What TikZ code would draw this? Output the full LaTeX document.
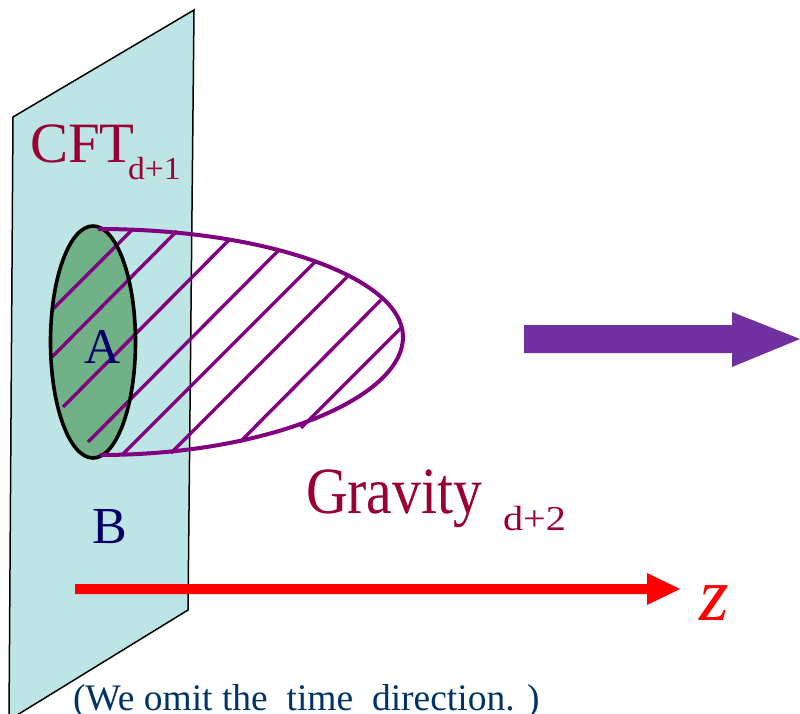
\documentclass[tikz,border=0pt]{standalone}
\usepackage{fontspec}
\setmainfont{Liberation Serif}
\definecolor{planefill}{RGB}{190,229,229}
\definecolor{regiongreen}{RGB}{112,177,136}
\definecolor{lobepurple}{RGB}{128,0,128}
\definecolor{labelred}{RGB}{153,0,51}
\definecolor{labelnavy}{RGB}{0,0,102}
\definecolor{notenavy}{RGB}{0,51,102}
\definecolor{arrowpurple}{RGB}{112,48,160}
\tikzset{
  hatchline/.style={draw=lobepurple, line width=3.4pt},
  lbl/.style={inner sep=0pt, outer sep=0pt, anchor=base west},
}
\begin{document}
\begin{tikzpicture}[x=1pt,y=-1pt]
\useasboundingbox (0,0) rectangle (800,714);
% boundary plane
\draw[fill=planefill, draw=black, line width=1.5pt, line join=miter]
  (194,10) -- (13,117) -- (9,720) -- (188,610) -- cycle;
% green region A
\fill[regiongreen] (93,342) ellipse [x radius=42.5, y radius=116];
% hatch lines
\draw[hatchline] (52,310) -- (132,230);
\draw[hatchline] (52,357) -- (177,231);
\draw[hatchline] (63,407) -- (229,240);
\draw[hatchline] (88,442) -- (278,251);
\draw[hatchline] (123,454) -- (315,262);
\draw[hatchline] (171,453) -- (347,277);
\draw[hatchline] (240,442) -- (381,300);
\draw[hatchline] (301,428) -- (401,328);
% outline of A
\draw[black, line width=3.6pt] (93,342) ellipse [x radius=42.5, y radius=116];
% outline of minimal surface
\draw[lobepurple, line width=4pt]
  (98,229) .. controls (267,229) and (403,278) .. (403,337)
           .. controls (403,398) and (267,455) .. (100,455);
% labels
\node[lbl, text=labelred, font=\fontsize{57}{60}\selectfont] (cft) at (30,163) {CFT};
\node[lbl, text=labelred, font=\fontsize{32}{34}\selectfont] (cftsub) at (128,180) {\scalebox{1.05}[1]{d+1}};
\node[lbl, text=labelnavy, font=\fontsize{50}{52}\selectfont] (a) at (84,363) {A};
\node[lbl, text=labelnavy, font=\fontsize{52}{54}\selectfont] (b) at (92,543) {B};
\node[lbl, text=labelred, font=\fontsize{66}{68}\selectfont] (grav) at (306,513) {\scalebox{0.875}[1]{Gravity}};
\node[lbl, text=labelred, font=\fontsize{35}{36}\selectfont] (gravsub) at (503,530) {\scalebox{1.15}[1]{d+2}};
\node[lbl, text=red, font=\fontsize{76}{78}\selectfont\itshape] (z) at (699,620) {z};
\node[lbl, text=notenavy, font=\fontsize{37.5}{40}\selectfont] (note) at (73,710) {(We omit the\ \ time\ \ direction. )};
% z axis arrow
\fill[red] (75,584) -- (647,584) -- (647,573) -- (680,589) -- (647,605) -- (647,594) -- (75,594) -- cycle;
% big purple arrow
\fill[arrowpurple] (524,325) -- (732,325) -- (732,312) -- (800,339) -- (732,367) -- (732,353) -- (524,353) -- cycle;
\end{tikzpicture}
\end{document}
